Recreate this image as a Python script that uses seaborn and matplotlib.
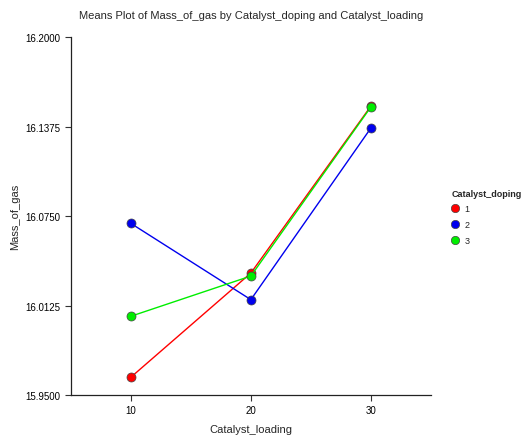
import numpy as np
import pandas as pd
import matplotlib
matplotlib.use("Agg")
import matplotlib.pyplot as plt
import seaborn as sns

# ============================================================
# DATA (means)
# ============================================================
loading = [10, 20, 30]
doping_1 = [15.9624, 16.0352, 16.1518]
doping_2 = [16.0699, 16.0166, 16.1365]
doping_3 = [16.0050, 16.0331, 16.1512]
doping_levels = ["1", "2", "3"]
y_ticks = [15.95, 16.0125, 16.075, 16.1375, 16.2]

df = pd.DataFrame({
    "Catalyst_loading": loading * 3,
    "Mass_of_gas": doping_1 + doping_2 + doping_3,
    "Catalyst_doping": [d for d in doping_levels for _ in loading],
})

# ============================================================
# PLOT
# ============================================================
sns.set_style("ticks")
plt.rcParams["font.family"] = ["Liberation Sans", "DejaVu Sans"]

fig = plt.figure(figsize=(5.21, 4.39), dpi=100)
ax = fig.add_axes([0.136, 0.098, 0.691, 0.815])

palette = {"1": "#ff0000", "2": "#0000ee", "3": "#00ee00"}

sns.lineplot(
    data=df, x="Catalyst_loading", y="Mass_of_gas", hue="Catalyst_doping",
    palette=palette, marker="o", markersize=6.5, markeredgecolor="#444444",
    markeredgewidth=0.5, linewidth=1, ax=ax, legend=False,
)

ax.set_xlim(5, 35)
ax.set_ylim(15.95, 16.2)
ax.set_xticks(loading)
ax.set_yticks(y_ticks)
ax.set_yticklabels([f"{v:.4f}" for v in y_ticks])
ax.tick_params(labelsize=7, length=4, width=0.8, colors="#333333", labelcolor="black")
sns.despine(ax=ax)
for s in ["left", "bottom"]:
    ax.spines[s].set_linewidth(0.9)
    ax.spines[s].set_color("#222222")

ax.set_xlabel("Catalyst_loading", fontsize=8, labelpad=6)
ax.set_ylabel("Mass_of_gas", fontsize=8, labelpad=4)
ax.set_title("Means Plot of Mass_of_gas by Catalyst_doping and Catalyst_loading",
             fontsize=8, pad=14)

# legend
handles = [plt.Line2D([], [], linestyle="none", marker="o", markersize=6,
                      markerfacecolor=palette[d], markeredgecolor="#444444",
                      markeredgewidth=0.5) for d in doping_levels]
leg = fig.legend(handles, doping_levels, title="Catalyst_doping",
                 loc="upper left", bbox_to_anchor=(0.866, 0.568),
                 frameon=False, fontsize=6.5, title_fontsize=6.5,
                 handlelength=0.8, handletextpad=0.7, labelspacing=0.75,
                 borderaxespad=0, borderpad=0)
leg.get_title().set_fontweight("bold")
leg._legend_box.align = "left"

fig.savefig("out.png", dpi=100)
